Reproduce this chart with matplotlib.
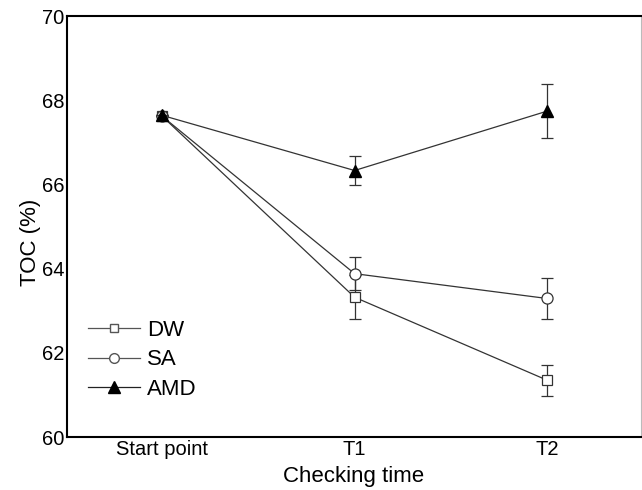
import numpy as np
import matplotlib.pyplot as plt
from matplotlib.lines import Line2D

plt.rcParams['font.family'] = ['Liberation Sans', 'DejaVu Sans']

# data
etapas = ["Start point", "T1", "T2"]
dw = [67.62, 63.32, 61.35]
dw_err = [0, 0.52, 0.37]
sa = [67.62, 63.88, 63.29]
sa_err = [0, 0.40, 0.49]
amd = [67.64, 66.33, 67.74]
amd_err = [0, 0.34, 0.64]

x = np.arange(len(etapas))

fig = plt.figure(figsize=(6.42, 4.90), dpi=100)
ax = fig.add_axes([67/642, 1 - 437/490, (641-67)/642, (437-16)/490])

cor = '#333333'
ax.errorbar(x, dw, yerr=dw_err, color=cor, lw=0.9, marker='s', ms=7,
            mfc='white', mec=cor, mew=0.9, capsize=4, elinewidth=0.9,
            capthick=0.9, zorder=3)
ax.errorbar(x, sa, yerr=sa_err, color=cor, lw=0.9, marker='o', ms=8,
            mfc='white', mec=cor, mew=0.9, capsize=4, elinewidth=0.9,
            capthick=0.9, zorder=4)
ax.errorbar(x, amd, yerr=amd_err, color=cor, lw=0.9, marker='^', ms=9,
            mfc='black', mec='black', capsize=4, elinewidth=0.9,
            capthick=0.9, zorder=5)

ax.set_xlim(-0.494, 2.488)
ax.set_ylim(60, 70)
ax.set_yticks([60, 62, 64, 66, 68, 70])
ax.set_xticks(x)
ax.set_xticklabels(etapas)
ax.tick_params(axis='both', length=0, labelsize=14.5, pad=2)

for s in ['left', 'top', 'bottom']:
    ax.spines[s].set_linewidth(1.5)
    ax.spines[s].set_color('black')
ax.spines['right'].set_color('#bbbbbb')
ax.spines['right'].set_linewidth(0.8)

ax.set_xlabel("Checking time", fontsize=16, labelpad=5)
ax.set_ylabel("TOC (%)", fontsize=16)
ax.yaxis.set_label_coords(-0.046, 0.463)

# legenda sem barras de erro
handles = [
    Line2D([], [], color='#555555', lw=0.9, marker='s', ms=6, mfc='white', mec='#555555'),
    Line2D([], [], color='#555555', lw=0.9, marker='o', ms=7, mfc='white', mec='#555555'),
    Line2D([], [], color='#222222', lw=0.9, marker='^', ms=8, mfc='black', mec='black'),
]
ax.legend(handles, ['DW', 'SA', 'AMD'], loc='upper left',
          bbox_to_anchor=(0.037, 0.278), frameon=False, borderpad=0,
          borderaxespad=0, fontsize=16, handlelength=2.35,
          handletextpad=0.3, labelspacing=0.38)

fig.savefig('out.png', dpi=100)
